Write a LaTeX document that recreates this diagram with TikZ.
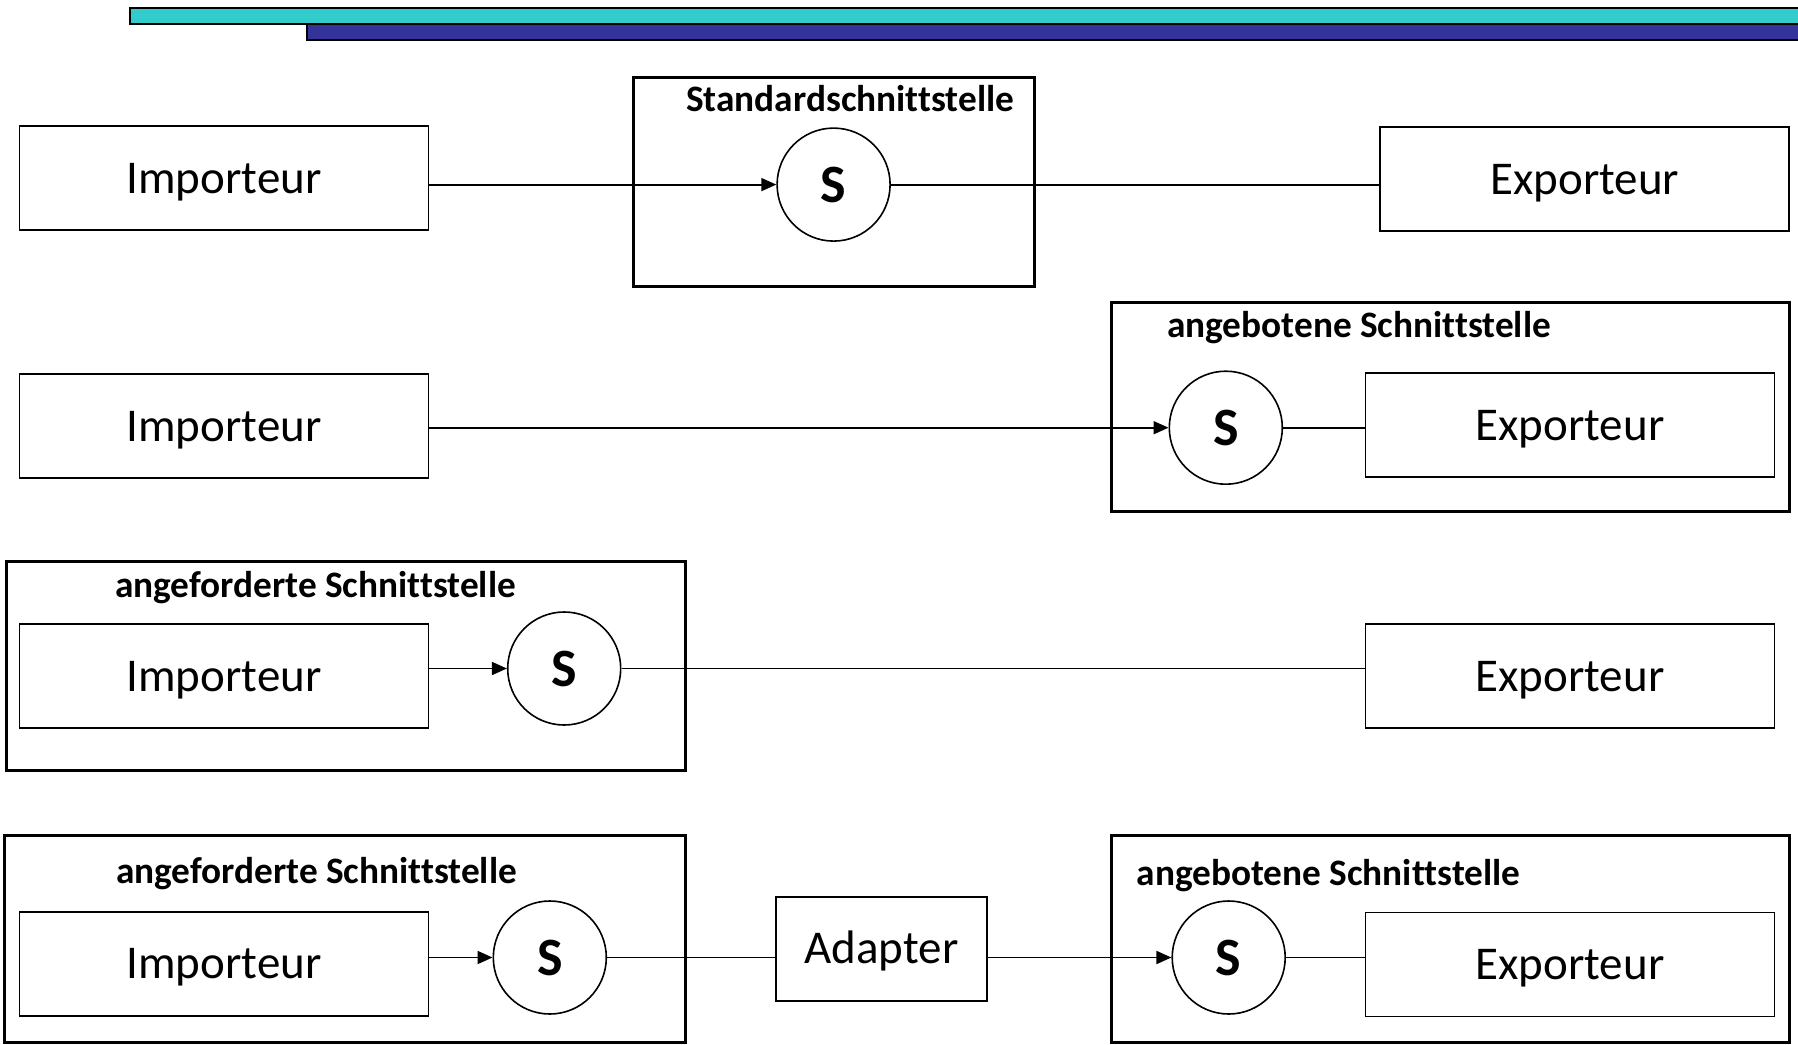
\documentclass[tikz,border=0pt]{standalone}
\usepackage{fontspec}
\setmainfont{Carlito}[Ligatures=NoCommon]
\usetikzlibrary{arrows.meta}
\definecolor{barcyan}{HTML}{33CCCC}
\definecolor{barblue}{HTML}{333399}

\begin{document}
\begin{tikzpicture}[x=1pt,y=-1pt,
  comp/.style={draw, line width=1.8pt, minimum width=409pt, minimum height=104pt,
    inner sep=0pt, text height=40pt, text depth=10pt, font=\fontsize{47}{56}\selectfont},
  iface/.style={draw, circle, line width=1.6pt, minimum size=113pt, inner sep=0pt,
    font=\bfseries\fontsize{54}{64}\selectfont},
  frame/.style={draw, line width=3pt, inner sep=0pt},
  flabel/.style={anchor=base west, inner sep=0pt, font=\bfseries\fontsize{37.3}{44}\selectfont},
  conn/.style={line width=1.8pt},
  req/.style={conn, -{Triangle[length=15pt,width=13pt]}},
]
\useasboundingbox (0,0) rectangle (1798,1044);

% header bars
\filldraw[fill=barcyan, draw=black, line width=2pt] (130,8) rectangle (1810,24);
\filldraw[fill=barblue, draw=black, line width=2pt] (307,24) rectangle (1810,40);

% row 1: standard interface
\node[frame, minimum width=401pt, minimum height=209pt] (f1) at (833.5,181.5) {};
\node[flabel] (l1) at (686,111) {Standardschnittstelle};
\node[comp] (imp1) at (224,178) {Importeur};
\node[iface] (s1) at (833.6,184.6) {S};
\node[comp] (exp1) at (1584.7,179.3) {Exporteur};
\draw[req] (imp1.east |- s1.center) -- (s1.west);
\draw[conn] (s1.east) -- (exp1.west |- s1.center);

% row 2: provided interface
\node[frame, minimum width=678pt, minimum height=209pt] (f2) at (1450,407) {};
\node[flabel] (l2) at (1167,337) {angebotene Schnittstelle};
\node[comp] (imp2) at (224,426) {Importeur};
\node[iface] (s2) at (1225.8,427.7) {S};
\node[comp] (exp2) at (1570,425) {Exporteur};
\draw[req] (imp2.east |- s2.center) -- (s2.west);
\draw[conn] (s2.east) -- (exp2.west |- s2.center);

% row 3: required interface
\node[frame, minimum width=679pt, minimum height=209pt] (f3) at (346.3,666.2) {};
\node[flabel] (l3) at (115,597) {angeforderte Schnittstelle};
\node[comp] (imp3) at (224,676) {Importeur};
\node[iface] (s3) at (564.2,668.5) {S};
\node[comp] (exp3) at (1570,676) {Exporteur};
\draw[req] (imp3.east |- s3.center) -- (s3.west);
\draw[conn] (s3.east) -- (exp3.west |- s3.center);

% row 4: adapter between required and provided interface
\node[frame, minimum width=681pt, minimum height=207pt] (f4a) at (345.4,938.5) {};
\node[flabel] (l4a) at (116,883.5) {angeforderte Schnittstelle};
\node[frame, minimum width=678pt, minimum height=207pt] (f4b) at (1450,938.5) {};
\node[flabel] (l4b) at (1136.4,885.5) {angebotene Schnittstelle};
\node[comp] (imp4) at (224,963.8) {Importeur};
\node[iface] (s4a) at (549.8,957.5) {S};
\node[comp, minimum width=211pt] (ad) at (881.5,948.9) {Adapter};
\node[iface] (s4b) at (1228.7,957.5) {S};
\node[comp] (exp4) at (1570,964.4) {Exporteur};
\draw[req] (imp4.east |- s4a.center) -- (s4a.west);
\draw[conn] (s4a.east) -- (ad.west |- s4a.center);
\draw[req] (ad.east |- s4b.center) -- (s4b.west);
\draw[conn] (s4b.east) -- (exp4.west |- s4b.center);
\end{tikzpicture}
\end{document}
